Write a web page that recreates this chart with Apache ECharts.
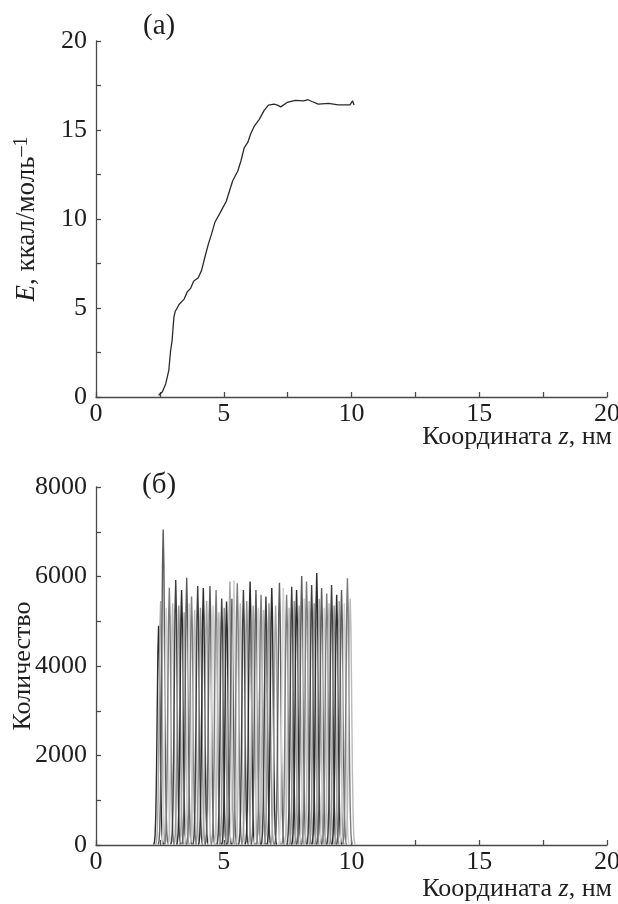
<!DOCTYPE html>
<html>
<head>
<meta charset="utf-8">
<script src="https://cdn.jsdelivr.net/npm/echarts@6/dist/echarts.min.js"></script>
<style>html,body{margin:0;padding:0;background:#fff}#c{width:618px;height:904px}</style>
</head>
<body>
<div id="c"></div>
<script>
// Panel (a): energy profile E(z)
const energyZ = [2.45, 2.6, 2.73, 2.85, 2.92, 2.98, 3.05, 3.1, 3.25, 3.45, 3.57, 3.7, 3.82, 4.0, 4.13, 4.26, 4.4, 4.52, 4.65, 4.84, 4.97, 5.1, 5.23, 5.35, 5.55, 5.68, 5.8, 5.94, 6.06, 6.19, 6.39, 6.58, 6.75, 6.97, 7.1, 7.23, 7.48, 7.8, 8.13, 8.3, 8.45, 8.7, 9.1, 9.48, 9.94, 10.04, 10.1];
const energyE = [0.1, 0.3, 0.75, 1.5, 2.6, 3.2, 4.5, 4.8, 5.2, 5.5, 5.9, 6.1, 6.5, 6.7, 7.1, 7.85, 8.6, 9.15, 9.8, 10.3, 10.65, 11.0, 11.6, 12.15, 12.7, 13.3, 14.0, 14.3, 14.8, 15.2, 15.6, 16.1, 16.4, 16.45, 16.4, 16.3, 16.55, 16.67, 16.64, 16.7, 16.6, 16.45, 16.5, 16.41, 16.41, 16.64, 16.41];

// Panel (b): sampling-window histograms (peak position, peak count)
const peakZ = [2.45, 2.53, 2.63, 2.75, 2.87, 3.0, 3.12, 3.24, 3.35, 3.45, 3.55, 3.65, 3.74, 3.86, 3.98, 4.09, 4.2, 4.33, 4.46, 4.58, 4.7, 4.81, 4.92, 5.02, 5.11, 5.24, 5.32, 5.4, 5.53, 5.65, 5.77, 5.9, 6.03, 6.15, 6.26, 6.36, 6.46, 6.56, 6.65, 6.77, 6.88, 7.03, 7.18, 7.33, 7.46, 7.56, 7.66, 7.76, 7.85, 7.95, 8.05, 8.15, 8.24, 8.34, 8.44, 8.54, 8.64, 8.74, 8.83, 8.93, 9.03, 9.12, 9.22, 9.32, 9.42, 9.52, 9.61, 9.72, 9.84, 9.95];
const peakN = [4900, 5450, 7050, 5300, 5750, 5400, 5920, 5350, 5700, 5200, 5970, 5400, 5550, 5250, 5790, 5300, 5740, 5450, 5790, 5350, 5700, 5200, 5510, 5300, 5440, 5890, 5500, 5920, 5850, 5400, 5700, 5450, 5890, 5350, 5700, 5300, 5590, 5250, 5550, 5400, 5740, 5350, 5860, 5740, 5590, 5300, 5770, 5450, 5700, 5350, 6010, 5500, 5890, 5450, 5810, 5400, 6080, 5500, 5740, 5300, 5620, 5400, 5810, 5350, 5590, 5450, 5700, 5400, 5960, 5500];

const xTicks = [0, 5, 10, 15, 20];
const yTicksA = [0, 5, 10, 15, 20];
const yTicksB = [0, 2000, 4000, 6000, 8000];

const FONT = '"Liberation Serif", "DejaVu Serif", serif';
const FS = 26;
const TXT = '#1e1e1e';
const AX = '#4a4a4a';
const greys = ['#2c2c2c', '#a4a4a4', '#5c5c5c', '#d0d0d0', '#7c7c7c', '#bababa', '#404040', '#939393'];

const tickStyle = { color: AX, width: 1.3 };

function xAxisCfg(idx, pad) {
  return {
    type: 'value', gridIndex: idx, min: xTicks[0], max: xTicks[xTicks.length - 1], interval: 5,
    name: '{n|Координата }{i|z}{n|, нм}', nameLocation: 'end', nameGap: 5, nameMoveOverlap: false,
    nameTextStyle: { align: 'right', verticalAlign: 'top', padding: [pad, 0, 0, 0],
      rich: { n: { fontFamily: FONT, fontSize: FS, color: TXT }, i: { fontFamily: FONT, fontSize: FS, fontStyle: 'italic', color: TXT } } },
    axisLine: { lineStyle: tickStyle },
    axisTick: { show: true, inside: true, length: 5, lineStyle: tickStyle },
    minorTick: { show: true, splitNumber: 2, length: 5, lineStyle: tickStyle },
    splitLine: { show: false },
    axisLabel: { fontFamily: FONT, fontSize: FS, color: TXT, margin: 4 }
  };
}
function yAxisCfg(idx, ticks, name, gap, rich) {
  return {
    type: 'value', gridIndex: idx, min: ticks[0], max: ticks[ticks.length - 1], interval: ticks[1] - ticks[0],
    name: name, nameLocation: 'middle', nameGap: gap, nameMoveOverlap: false,
    nameTextStyle: rich ? { rich: rich } : { fontFamily: FONT, fontSize: FS, color: TXT },
    axisLine: { lineStyle: tickStyle },
    axisTick: { show: true, inside: true, length: 5, lineStyle: tickStyle },
    minorTick: { show: true, splitNumber: 2, length: 5, lineStyle: tickStyle },
    splitLine: { show: false },
    axisLabel: { fontFamily: FONT, fontSize: FS, color: TXT, margin: 9, formatter: v => String(v) }
  };
}

const option = {
  animation: false,
  backgroundColor: '#fff',
  title: [
    { text: '(a)', left: 138, top: 7, textStyle: { fontFamily: FONT, fontSize: 29, fontWeight: 'normal', color: TXT } },
    { text: '(б)', left: 137, top: 466, textStyle: { fontFamily: FONT, fontSize: 29, fontWeight: 'normal', color: TXT } }
  ],
  grid: [
    { left: 96, right: 11, top: 41, height: 356, outerBoundsMode: 'none', containLabel: false },
    { left: 96, right: 11, top: 487, height: 358, outerBoundsMode: 'none', containLabel: false }
  ],
  xAxis: [xAxisCfg(0, 27), xAxisCfg(1, 31)],
  yAxis: [
    yAxisCfg(0, yTicksA, '{i|E}{n|, ккал/моль}{s|–1}', 54, {
      n: { fontFamily: FONT, fontSize: 27, color: TXT },
      i: { fontFamily: FONT, fontSize: 27, fontStyle: 'italic', color: TXT },
      s: { fontFamily: FONT, fontSize: 20, color: TXT, verticalAlign: 'top', padding: [0, 0, 10, 0] } }),
    yAxisCfg(1, yTicksB, 'Количество', 60, null)
  ],
  series: [
    {
      type: 'line', xAxisIndex: 0, yAxisIndex: 0, showSymbol: false, symbol: 'none',
      data: energyZ.map((z, i) => [z, energyE[i]]),
      lineStyle: { color: '#2a2a2a', width: 1.3 }
    },
    {
      type: 'custom', xAxisIndex: 1, yAxisIndex: 1,
      encode: { x: 0, y: 1 },
      data: peakZ.map((z, i) => [z, peakN[i]]),
      renderItem: function (params, api) {
        const c = api.value(0), h = api.value(1);
        const sigma = 0.055;
        const pts = [];
        for (let k = -3.5; k <= 3.5001; k += 0.5) {
          pts.push(api.coord([c + k * sigma, h * Math.exp(-k * k / 2)]));
        }
        return {
          type: 'polyline',
          shape: { points: pts },
          style: { stroke: greys[params.dataIndex % greys.length], lineWidth: 1.4, fill: null }
        };
      }
    }
  ]
};

const chart = echarts.init(document.getElementById('c'), null, { renderer: 'canvas' });
chart.setOption(option);
</script>
</body>
</html>
